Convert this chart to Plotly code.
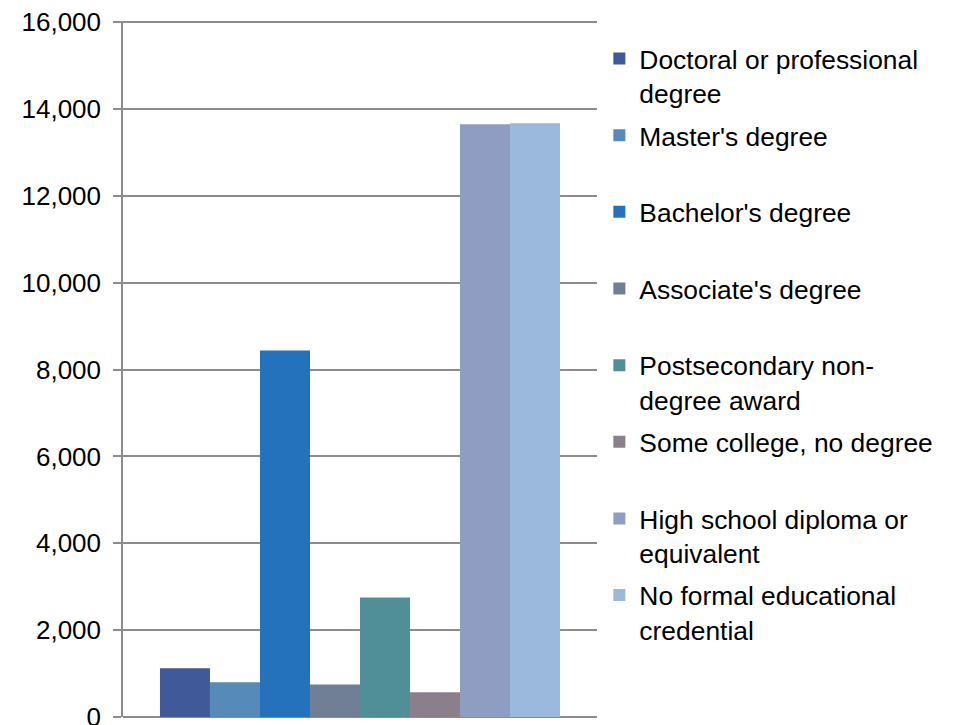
import plotly.graph_objects as go

categories = ["Doctoral or professional<br>degree", "Master's degree<br> ", "Bachelor's degree<br> ",
              "Associate's degree<br> ", "Postsecondary non-<br>degree award",
              "Some college, no degree<br> ", "High school diploma or<br>equivalent",
              "No formal educational<br>credential"]
values = [1120, 800, 8440, 750, 2750, 570, 13650, 13670]
colors = ["#3F5999", "#558AB9", "#2472BC", "#707E96", "#508F98", "#8B7F8C", "#909DC3", "#9AB9DD"]
tick_vals = [0, 2000, 4000, 6000, 8000, 10000, 12000, 14000, 16000]

FONT = "Liberation Sans, Arial, sans-serif"
GRID = "#8C8C8C"

fig = go.Figure()
for i, (name, v, c) in enumerate(zip(categories, values, colors)):
    fig.add_trace(go.Bar(x=["All"], y=[v], name=name, marker=dict(color=c, line=dict(width=0)),
                         legendgroup=f"g{i}", showlegend=True))

fig.update_layout(
    width=955, height=725,
    margin=dict(l=115, r=366, t=13, b=16, autoexpand=False),
    paper_bgcolor="white", plot_bgcolor="white",
    barmode="group", bargap=0.156, bargroupgap=0,
    font=dict(family=FONT, size=26, color="black"),
    showlegend=True,
    legend=dict(x=1.005, xanchor="left", y=0.98, yanchor="top", valign="top",
                tracegroupgap=5, font=dict(family=FONT, size=26.4, color="black"),
                bgcolor="rgba(0,0,0,0)", borderwidth=0),
    xaxis=dict(showticklabels=False, ticks="", showgrid=False, showline=False, zeroline=False,
               range=[-0.5, 0.5], automargin=False),
    yaxis=dict(range=[0, 16025], tickvals=tick_vals, tickformat=",", showgrid=True,
               gridcolor=GRID, gridwidth=1.5, showline=True, linecolor=GRID, linewidth=1.5,
               ticks="outside", ticklen=8, tickcolor=GRID, tickwidth=1.5,
               zeroline=True, zerolinecolor=GRID, zerolinewidth=1.5, automargin=False,
               ticklabeloverflow="allow", ticklabelstandoff=7,
               tickfont=dict(family=FONT, size=26, color="black")),
)

fig.write_html("out.html")
